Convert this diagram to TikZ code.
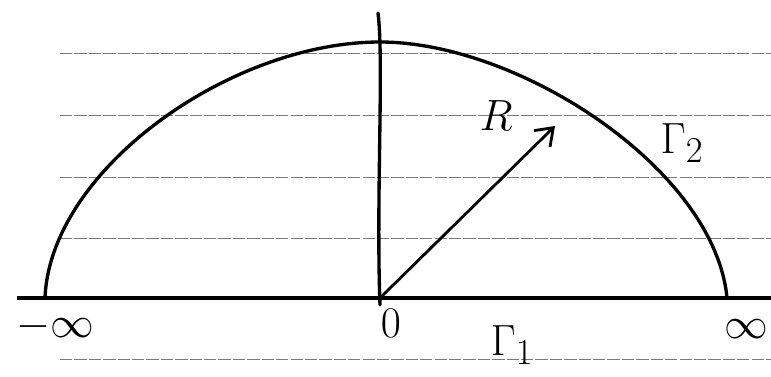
\documentclass[tikz,border=0pt]{standalone}
\usepackage{amsmath,amssymb}
\usepackage{tikz}
\usetikzlibrary{arrows.meta,positioning}
\definecolor{paperline}{HTML}{7A7A7A}
\tikzset{
  ruling/.style={paperline, dash pattern=on 7pt off 1.2pt, line width=0.45pt},
  axisline/.style={black, line width=2.3pt},
  contour/.style={black, line width=1.9pt, line cap=round, line join=round},
  radiusarrow/.style={black, line width=1.6pt, -{Straight Barb[length=9pt, width=13pt, line width=1.6pt]}},
  handlabel/.style={inner sep=0pt, font=\fontsize{32}{32}\selectfont},
  smalllabel/.style={inner sep=0pt, font=\fontsize{24}{24}\selectfont}
}

\begin{document}
\begin{tikzpicture}[x=0.02cm, y=-0.02cm]
  \useasboundingbox (0,0) rectangle (771,376);
  \foreach \yy in {53,115,177,238,359}
    \draw[ruling] (60,\yy) -- (771,\yy);
  \coordinate (O) at (380,298);
  \coordinate (left) at (17,298);
  \coordinate (right) at (771,298);
  \coordinate (top) at (378,13);
  \coordinate (Rtip) at (555,126);
  \coordinate (footL) at (45,298);
  \coordinate (footR) at (727,298);
  \coordinate (apex) at (380,42);
  \draw[axisline] (left) -- (right);
  \draw[contour] (top) .. controls (384,60) and (376,200) .. (380,305);
  \draw[contour] (footL) .. controls (50,170) and (230,42) .. (apex)
    .. controls (520,42) and (715,170) .. (footR);
  \draw[radiusarrow] (O) -- (Rtip);
  \node[handlabel] (R) at (496,116) {$R$};
  \node[handlabel] (G2) at (682,143) {$\Gamma_2$};
  \node[smalllabel] (zero) at (391,323) {$0$};
  \node[handlabel] (minf) at (55,327) {$-\infty$};
  \node[handlabel] (pinf) at (746,329) {$\infty$};
  \node[handlabel] (G1) at (512,345) {$\Gamma_1$};
\end{tikzpicture}
\end{document}
